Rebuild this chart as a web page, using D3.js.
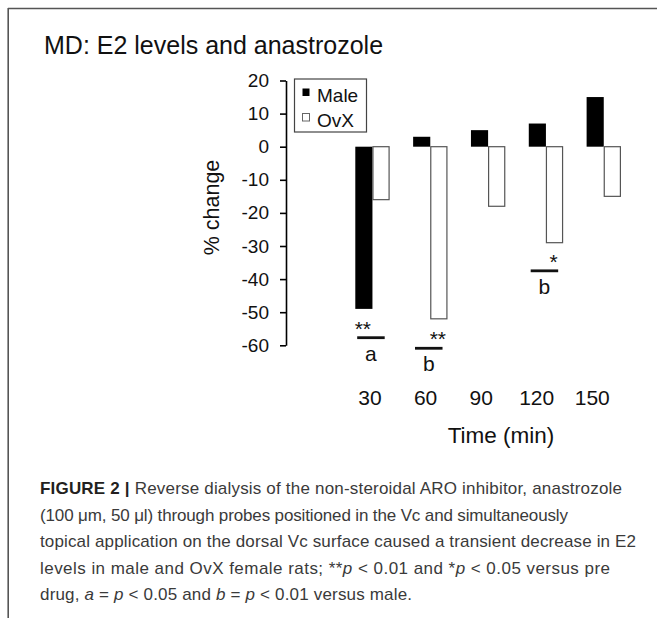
<!DOCTYPE html>
<html>
<head>
<meta charset="utf-8">
<script src="https://cdn.jsdelivr.net/npm/d3@7"></script>
<style>
  html, body { margin: 0; padding: 0; background: #fff; }
  svg { display: block; }
  text { font-family: "Liberation Sans", Arial, Helvetica, sans-serif; }
</style>
</head>
<body>
<svg id="chart" width="657" height="618"></svg>
<script>
// ---- data ----
const categories = ["30", "60", "90", "120", "150"];
const seriesNames = ["Male", "OvX"];
const maleValues = [-49, 3, 5, 7, 15];
const ovxValues = [-16, -52, -18, -29, -15];
const yTicks = [20, 10, 0, -10, -20, -30, -40, -50, -60];
const starMarks = [
  { cat: "30", series: "Male", text: "**", level: -57.7 },
  { cat: "60", series: "OvX", text: "**", level: -60.9 },
  { cat: "120", series: "OvX", text: "*", level: -37.5 }
];
const letterMarks = [
  { cat: "30", text: "a", level: -57.7 },
  { cat: "60", text: "b", level: -60.9 },
  { cat: "120", text: "b", level: -37.5 }
];
const titleText = "MD: E2 levels and anastrozole";
const yLabel = "% change";
const xLabel = "Time (min)";

// ---- build ----
const svg = d3.select("#chart");

// frame
svg.append("line").attr("x1", 8).attr("x2", 657).attr("y1", 8.5).attr("y2", 8.5)
  .attr("stroke", "#555").attr("stroke-width", 1.6);
svg.append("line").attr("x1", 8.2).attr("x2", 8.2).attr("y1", 8).attr("y2", 618)
  .attr("stroke", "#555").attr("stroke-width", 1.6);

// title
svg.append("text").attr("x", 44).attr("y", 54).attr("font-size", 25).attr("fill", "#111")
  .text(titleText);

// scales
const y = d3.scaleLinear().domain([-60, 20]).range([345.3, 80.5]);
const x0 = d3.scaleBand().domain(categories).range([355.3, 620.9])
  .paddingInner(0.407).paddingOuter(0);
const x1 = d3.scaleBand().domain(seriesNames).range([0, x0.bandwidth()]);
const xLab = d3.scalePoint().domain(categories).range([370, 592.3]);

const rows = categories.map((c, i) => ({ cat: c, Male: maleValues[i], OvX: ovxValues[i] }));

// bars
const groups = svg.append("g").selectAll("g").data(rows).join("g")
  .attr("transform", d => `translate(${x0(d.cat)},0)`);
groups.selectAll("rect").data(d => seriesNames.map(s => ({ s, v: d[s] }))).join("rect")
  .attr("x", d => x1(d.s) + (d.s === "OvX" ? 0.5 : 0))
  .attr("width", d => x1.bandwidth() - (d.s === "OvX" ? 1 : 0))
  .attr("y", d => y(Math.max(0, d.v)))
  .attr("height", d => Math.abs(y(d.v) - y(0)))
  .attr("fill", d => d.s === "Male" ? "#000" : "#fff")
  .attr("stroke", d => d.s === "Male" ? "none" : "#555")
  .attr("stroke-width", 1.2);

// y axis
const yAxis = svg.append("g").attr("transform", "translate(286,0)")
  .call(d3.axisLeft(y).tickValues(yTicks).tickSize(6).tickSizeOuter(0).tickPadding(11)
    .tickFormat(d3.format("d")));
yAxis.select(".domain").attr("stroke", "#000").attr("stroke-width", 1.6);
yAxis.selectAll(".tick line").attr("stroke", "#000").attr("stroke-width", 1.6);
yAxis.selectAll(".tick text").attr("font-size", 19).attr("fill", "#111")
  .attr("font-family", "Liberation Sans, Arial, sans-serif")
  .text(d => d < 0 ? "-" + Math.abs(d) : d);

// y label
svg.append("text").attr("transform", "translate(219,207.5) rotate(-90)")
  .attr("text-anchor", "middle").attr("font-size", 21.5).attr("fill", "#111").text(yLabel);

// x tick labels
svg.append("g").selectAll("text").data(categories).join("text")
  .attr("x", d => xLab(d)).attr("y", 405).attr("text-anchor", "middle")
  .attr("font-size", 21).attr("fill", "#111").text(d => d);

// x label
svg.append("text").attr("x", 501).attr("y", 443).attr("text-anchor", "middle")
  .attr("font-size", 22.5).attr("fill", "#111").text(xLabel);

// significance lines, stars, letters
const lineW = 27.5;
const groupCenter = c => x0(c) + x0.bandwidth() / 2 - 1.5;
svg.append("g").selectAll("line").data(letterMarks).join("line")
  .attr("x1", d => groupCenter(d.cat) - lineW / 2)
  .attr("x2", d => groupCenter(d.cat) + lineW / 2)
  .attr("y1", d => y(d.level)).attr("y2", d => y(d.level))
  .attr("stroke", "#111").attr("stroke-width", 2.8);
svg.append("g").selectAll("text").data(letterMarks).join("text")
  .attr("x", d => groupCenter(d.cat)).attr("y", d => y(d.level) + 23)
  .attr("text-anchor", "middle").attr("font-size", 21).attr("fill", "#111").text(d => d.text);
svg.append("g").selectAll("text").data(starMarks).join("text")
  .attr("x", d => x0(d.cat) + x1(d.series) + x1.bandwidth() / 2 - 1)
  .attr("y", d => y(d.level) - 2)
  .attr("text-anchor", "middle").attr("font-size", 21).attr("fill", "#111").text(d => d.text);

// legend
const leg = svg.append("g");
leg.append("rect").attr("x", 294.5).attr("y", 79).attr("width", 72).attr("height", 53)
  .attr("fill", "#fff").attr("stroke", "#444").attr("stroke-width", 1.2);
const legItems = leg.selectAll("g").data(seriesNames).join("g")
  .attr("transform", (d, i) => `translate(0,${i * 25})`);
legItems.append("rect").attr("x", 302.5).attr("y", 88.5).attr("width", 7).attr("height", 7.5)
  .attr("fill", d => d === "Male" ? "#000" : "#fff")
  .attr("stroke", d => d === "Male" ? "none" : "#666").attr("stroke-width", 1);
legItems.append("text").attr("x", 317).attr("y", 101.5).attr("font-size", 19).attr("fill", "#111")
  .text(d => d);

// caption
const capLines = [
  [["FIGURE 2 | ", "b"], ["Reverse dialysis of the non-steroidal ARO inhibitor, anastrozole", ""]],
  [["(100 \u03bcm, 50 \u03bcl) through probes positioned in the Vc and simultaneously", ""]],
  [["topical application on the dorsal Vc surface caused a transient decrease in E2", ""]],
  [["levels in male and OvX female rats; **", ""], ["p", "i"], [" < 0.01 and *", ""], ["p", "i"], [" < 0.05 versus pre", ""]],
  [["drug, ", ""], ["a", "i"], [" = ", ""], ["p", "i"], [" < 0.05 and ", ""], ["b", "i"], [" = ", ""], ["p", "i"], [" < 0.01 versus male.", ""]]
];
const capWidths = [582, 528, 596, 570, 372];
const capG = svg.append("g");
capLines.forEach((line, li) => {
  const t = capG.append("text").attr("x", 40).attr("y", 494 + li * 26.5)
    .attr("font-size", 17).attr("fill", "#3a3a3a")
    .attr("textLength", capWidths[li]).attr("lengthAdjust", "spacing");
  line.forEach(seg => {
    const s = t.append("tspan").text(seg[0]);
    if (seg[1] === "b") s.attr("font-weight", "bold").attr("fill", "#231f20");
    if (seg[1] === "i") s.attr("font-style", "italic");
  });
});
</script>
</body>
</html>
